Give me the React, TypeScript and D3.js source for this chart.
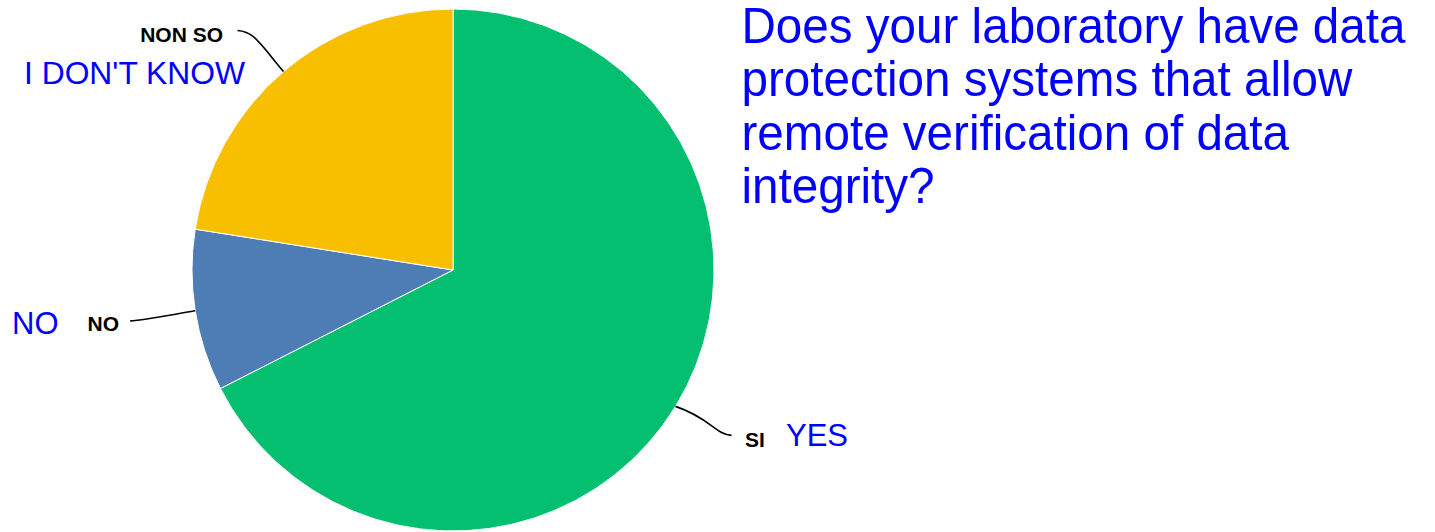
import React from "react";
import * as d3 from "d3";

const categories = ["SI", "NO", "NON SO"];
const translations = ["YES", "NO", "I DON'T KNOW"];
const values = [27, 4, 9];
const colors = ["#03BF6F", "#4E7DB5", "#F8BE00"];
const titleLines = [
  "Does your laboratory have data",
  "protection systems that allow",
  "remote verification of data",
  "integrity?",
];

const W = 1435;
const H = 532;
const cx = 453;
const cy = 270;
const R = 261;

export default function App() {
  const pie = d3.pie<number>().sort(null).value((d) => d);
  const arcs = pie(values);
  const arc = d3.arc<d3.PieArcDatum<number>>().innerRadius(0).outerRadius(R);

  const edge = (a: d3.PieArcDatum<number>) => {
    const m = (a.startAngle + a.endAngle) / 2;
    return [Math.sin(m) * R, -Math.cos(m) * R];
  };

  const leaders = [
    { c1: [35, 12], c2: [40, 28], end: [56, 29] }, // SI
    { c1: [-30, 5], c2: [-50, 9], end: [-65, 10] }, // NO
    { c1: [-25, -30], c2: [-30, -40], end: [-46, -41] }, // NON SO
  ];

  const catPos: [number, number, string][] = [
    [745, 447, "start"],
    [119, 331, "end"],
    [223, 42, "end"],
  ];
  const trPos: [number, number, string][] = [
    [786, 446, "start"],
    [12, 334, "start"],
    [24, 84, "start"],
  ];
  const trSize = [31, 31, 31.8];

  return (
    <svg width={W} height={H} style={{ display: "block", position: "absolute", left: 0, top: 0 }}>
      <rect width={W} height={H} fill="#fff" />
      <g transform={`translate(${cx},${cy})`}>
        {arcs.map((a, i) => (
          <path key={i} d={arc(a) || ""} fill={colors[i]} stroke="#fff" strokeWidth={1} />
        ))}
        {arcs.map((a, i) => {
          const [x, y] = edge(a);
          const l = leaders[i];
          const d = `M${x},${y} C${x + l.c1[0]},${y + l.c1[1]} ${x + l.c2[0]},${y + l.c2[1]} ${x + l.end[0]},${y + l.end[1]}`;
          return <path key={"l" + i} d={d} fill="none" stroke="#000" strokeWidth={1.6} />;
        })}
      </g>
      <g fontFamily="'Liberation Sans', Arial, sans-serif" fontWeight="bold" fontSize={21} fill="#000">
        {categories.map((c, i) => (
          <text key={c} x={catPos[i][0]} y={catPos[i][1]} textAnchor={catPos[i][2]}>{c}</text>
        ))}
      </g>
      <g fontFamily="'Liberation Sans', Arial, sans-serif" fill="#0000FF">
        {translations.map((t, i) => (
          <text key={t + i} x={trPos[i][0]} y={trPos[i][1]} fontSize={trSize[i]} textAnchor={trPos[i][2]}>{t}</text>
        ))}
      </g>
      <g fontFamily="'Liberation Sans', Arial, sans-serif" fontSize={47.6} fill="#0000FF">
        {titleLines.map((t, i) => {
          const by = 42.5 + i * 53.5;
          return (
            <text key={i} x={741.5} y={0} transform={`translate(0,${by}) scale(1,1.04)`}>{t}</text>
          );
        })}
      </g>
    </svg>
  );
}
